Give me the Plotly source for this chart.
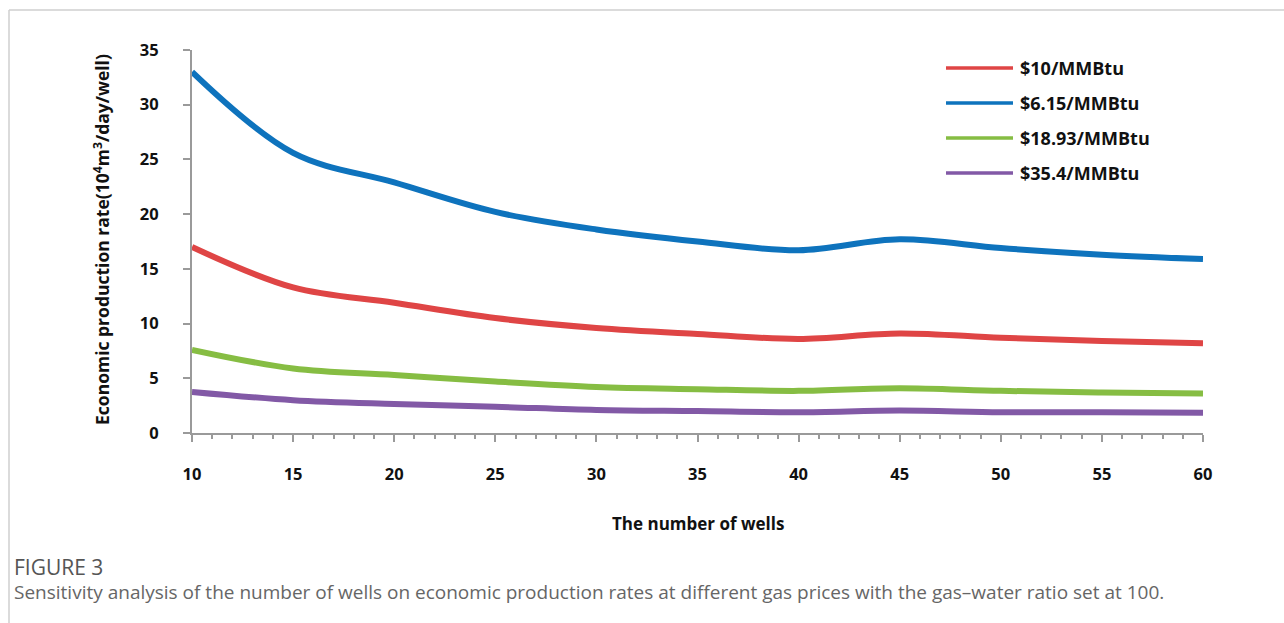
import plotly.graph_objects as go

wells = [10, 15, 20, 25, 30, 35, 40, 45, 50, 55, 60]

series_names = ["$10/MMBtu", "$6.15/MMBtu", "$18.93/MMBtu", "$35.4/MMBtu"]
price_10 = [17.0, 13.3, 11.9, 10.5, 9.6, 9.05, 8.6, 9.1, 8.7, 8.4, 8.2]
price_615 = [33.0, 25.6, 22.9, 20.2, 18.6, 17.5, 16.7, 17.7, 16.9, 16.3, 15.9]
price_1893 = [7.6, 5.9, 5.3, 4.7, 4.2, 4.0, 3.85, 4.1, 3.85, 3.7, 3.6]
price_354 = [3.75, 3.0, 2.65, 2.4, 2.1, 2.0, 1.9, 2.05, 1.9, 1.9, 1.85]
series_values = [price_10, price_615, price_1893, price_354]
colors = ["#DF4545", "#0E73BD", "#86BD43", "#8259A6"]

x_ticks = [10, 15, 20, 25, 30, 35, 40, 45, 50, 55, 60]
y_ticks = [0, 5, 10, 15, 20, 25, 30, 35]

FONT = "Open Sans"
W, H = 1284, 623
L, R, T, B = 192, 81, 50, 190
PW, PH = W - L - R, H - T - B

def px_x(p):
    return (p - L) / PW

def px_y(p):
    return (H - B - p) / PH

fig = go.Figure()
for name, vals, col in zip(series_names, series_values, colors):
    fig.add_trace(go.Scatter(
        x=wells, y=vals, name=name, mode="lines",
        line=dict(color=col, width=6, shape="spline", smoothing=1.0),
        showlegend=False, cliponaxis=False,
    ))

# manual legend (long line samples like the original)
legend_y_px = [68, 103, 138, 173]
shapes = []
annotations = []
for name, col, ly in zip(series_names, colors, legend_y_px):
    shapes.append(dict(type="line", xref="paper", yref="paper",
                       x0=px_x(946), x1=px_x(1013), y0=px_y(ly), y1=px_y(ly),
                       line=dict(color=col, width=3.5)))
    annotations.append(dict(xref="paper", yref="paper", x=px_x(1018), y=px_y(ly),
                            xanchor="left", yanchor="middle", showarrow=False,
                            text="<b>" + name + "</b>",
                            font=dict(family=FONT, size=18, color="#111111")))

# figure frame lines (top and left)
shapes.append(dict(type="line", xref="paper", yref="paper",
                   x0=px_x(9), x1=px_x(W + 5), y0=px_y(10), y1=px_y(10),
                   line=dict(color="#CFCFCF", width=1.5)))
shapes.append(dict(type="line", xref="paper", yref="paper",
                   x0=px_x(9), x1=px_x(9), y0=px_y(10), y1=px_y(H + 5),
                   line=dict(color="#CFCFCF", width=1.5)))

# caption
annotations.append(dict(xref="paper", yref="paper", x=px_x(12), y=px_y(567),
                        xanchor="left", yanchor="middle", showarrow=False,
                        text="FIGURE 3",
                        font=dict(family=FONT, size=21, color="#555555")))
annotations.append(dict(xref="paper", yref="paper", x=px_x(12), y=px_y(592),
                        xanchor="left", yanchor="middle", showarrow=False,
                        text="Sensitivity analysis of the number of wells on economic production rates at different gas prices with the gas\u2013water ratio set at 100.",
                        font=dict(family=FONT, size=19, color="#666666")))

# axis titles
annotations.append(dict(xref="paper", yref="paper", x=0.5, y=px_y(523),
                        xanchor="center", yanchor="middle", showarrow=False,
                        text="<b>The number of wells</b>",
                        font=dict(family=FONT, size=17, color="#111111")))
annotations.append(dict(xref="paper", yref="paper", x=px_x(101), y=px_y(240),
                        xanchor="center", yanchor="middle", showarrow=False,
                        textangle=-90,
                        text="<b>Economic production rate(10<sup>4</sup>m<sup>3</sup>/day/well)</b>",
                        font=dict(family=FONT, size=17.5, color="#111111")))

fig.update_layout(
    width=W, height=H,
    margin=dict(l=L, r=R, t=T, b=B),
    paper_bgcolor="white", plot_bgcolor="white",
    shapes=shapes, annotations=annotations,
    showlegend=False,
)
fig.update_xaxes(
    range=[10, 60], tickvals=x_ticks, ticktext=[str(v) for v in x_ticks],
    showgrid=False, zeroline=False, showline=True, linecolor="#9A9A9A", linewidth=2,
    ticks="outside", ticklen=7, tickwidth=2, tickcolor="#9A9A9A",
    minor=dict(dtick=1, ticks="outside", ticklen=4, tickwidth=1.5, tickcolor="#9A9A9A", showgrid=False),
    tickfont=dict(family=FONT, size=16.5, color="#111111", weight="bold"),
    ticklabelstandoff=18,
)
fig.update_yaxes(
    range=[0, 35], tickvals=y_ticks, ticktext=[str(v) for v in y_ticks],
    showgrid=False, zeroline=False, showline=True, linecolor="#9A9A9A", linewidth=2,
    ticks="outside", ticklen=7, tickwidth=2, tickcolor="#9A9A9A",
    tickfont=dict(family=FONT, size=16.5, color="#111111", weight="bold"),
    ticklabelstandoff=21,
)

fig.write_html("out.html")
